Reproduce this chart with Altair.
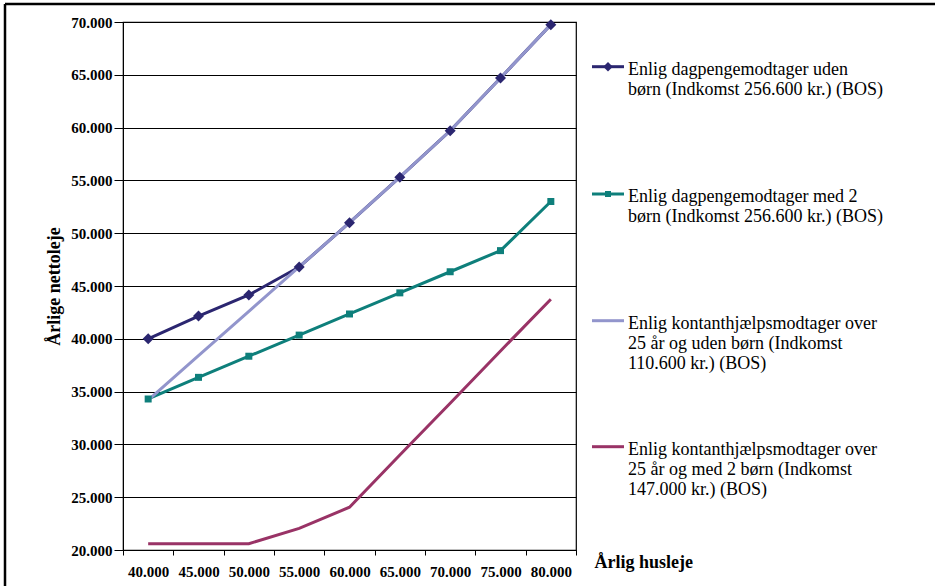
import altair as alt
import pandas as pd

# ---- data ----
rent = [40000, 45000, 50000, 55000, 60000, 65000, 70000, 75000, 80000]
series_names = [
    "Enlig dagpengemodtager uden børn (Indkomst 256.600 kr.) (BOS)",
    "Enlig dagpengemodtager med 2 børn (Indkomst 256.600 kr.) (BOS)",
    "Enlig kontanthjælpsmodtager over 25 år og uden børn (Indkomst 110.600 kr.) (BOS)",
    "Enlig kontanthjælpsmodtager over 25 år og med 2 børn (Indkomst 147.000 kr.) (BOS)",
]
legend_lines = [
    "Enlig dagpengemodtager uden\nbørn (Indkomst 256.600 kr.) (BOS)",
    "Enlig dagpengemodtager med 2\nbørn (Indkomst 256.600 kr.) (BOS)",
    "Enlig kontanthjælpsmodtager over\n25 år og uden børn (Indkomst\n110.600 kr.) (BOS)",
    "Enlig kontanthjælpsmodtager over\n25 år og med 2 børn (Indkomst\n147.000 kr.) (BOS)",
]
s1 = [40000, 42150, 44150, 46800, 51000, 55300, 59700, 64700, 69750]
s2 = [34300, 36350, 38350, 40350, 42350, 44350, 46350, 48350, 53000]
s3 = [34200, 38400, 42600, 46800, 51000, 55300, 59700, 64700, 69750]
s4 = [20600, 20600, 20600, 22050, 24050, 29000, 33900, 38850, 43750]
colors = ["#2B2670", "#0E7F7B", "#9295CC", "#993366"]
y_ticks = [20000, 25000, 30000, 35000, 40000, 45000, 50000, 55000, 60000, 65000, 70000]

rows = []
for name, vals in zip(series_names, [s1, s2, s3, s4]):
    for r, v in zip(rent, vals):
        rows.append({"series": name, "rent": r, "value": v})
df = pd.DataFrame(rows)

FONT = "Liberation Serif"
W, H = 453, 528
LEFT, TOP = 123, 22
TOTAL_H = 586

color_scale = alt.Scale(domain=series_names, range=colors)
fmt = "isValid(datum.value) ? replace(format(toNumber(datum.value), ','), ',', '.') : ''"

x_enc = alt.X(
    "rent:O",
    bandPosition=0.5,
    scale=alt.Scale(type="band", paddingInner=0, paddingOuter=0),
    axis=alt.Axis(
        tickBand="extent", tickSize=5, labelPadding=9, labelAngle=0,
        labelExpr=fmt, labelFont=FONT, labelFontSize=15, labelFontWeight="bold",
        labelColor="black", domainColor="black", tickColor="black", grid=False,
        title="Årlig husleje", titleFont=FONT, titleFontSize=18, titleFontWeight="bold",
        titleColor="black", titleX=471, titleY=17, titleAlign="left",
        titleBaseline="alphabetic", titleAnchor="start",
    ),
)
y_enc = alt.Y(
    "value:Q",
    scale=alt.Scale(domain=[20000, 70000], nice=False, zero=False),
    axis=alt.Axis(
        values=y_ticks, tickSize=9, labelPadding=2, labelExpr=fmt,
        labelFont=FONT, labelFontSize=15, labelFontWeight="bold", labelColor="black",
        domainColor="black", tickColor="black", grid=True, gridColor="black",
        gridOpacity=1, gridWidth=1,
        title="Årlige nettoleje", titleFont=FONT, titleFontSize=18,
        titleFontWeight="bold", titleColor="black", titleAngle=270,
        titleX=-69, titleY=H / 2, titleAlign="center", titleBaseline="middle",
    ),
)

layers = []
for name in series_names:
    layers.append(
        alt.Chart(df).transform_filter(alt.datum.series == name).mark_line(strokeWidth=3).encode(
            x=x_enc, y=y_enc,
            color=alt.Color("series:N", scale=color_scale, legend=None),
        )
    )
layers.append(
    alt.Chart(df).transform_filter(alt.datum.series == series_names[0]).mark_point(
        shape="diamond", filled=True, size=121, opacity=1
    ).encode(x=x_enc, y=y_enc, color=alt.Color("series:N", scale=color_scale, legend=None))
)
layers.append(
    alt.Chart(df).transform_filter(alt.datum.series == series_names[1]).mark_point(
        shape="square", filled=True, size=49, opacity=1
    ).encode(x=x_enc, y=y_enc, color=alt.Color("series:N", scale=color_scale, legend=None))
)

# ---- manual legend (right of plot) ----
leg_y = [44.7, 172, 298.7, 424.7]
leg = pd.DataFrame({"series": series_names, "label": legend_lines, "ly": leg_y})
leg["ty"] = leg["ly"] - 6
lx0, lx1, tx = 592 - LEFT, 624 - LEFT, 628 - LEFT
layers.append(
    alt.Chart(leg).mark_rule(strokeWidth=3).encode(
        x=alt.value(lx0), x2=alt.value(lx1), y=alt.Y("ly:Q", scale=None),
        color=alt.Color("series:N", scale=color_scale, legend=None),
    )
)
layers.append(
    alt.Chart(leg).transform_filter(alt.datum.series == series_names[0]).mark_point(
        shape="diamond", filled=True, size=90, opacity=1
    ).encode(
        x=alt.value((lx0 + lx1) / 2), y=alt.Y("ly:Q", scale=None),
        color=alt.Color("series:N", scale=color_scale, legend=None),
    )
)
layers.append(
    alt.Chart(leg).transform_filter(alt.datum.series == series_names[1]).mark_point(
        shape="square", filled=True, size=36, opacity=1
    ).encode(
        x=alt.value((lx0 + lx1) / 2), y=alt.Y("ly:Q", scale=None),
        color=alt.Color("series:N", scale=color_scale, legend=None),
    )
)
layers.append(
    alt.Chart(leg).mark_text(
        font=FONT, fontSize=18, align="left", baseline="top", lineBreak="\n",
        lineHeight=20, color="black",
    ).encode(x=alt.value(tx), y=alt.Y("ty:Q", scale=None), text="label:N")
)

# ---- outer frame (top and left edges visible in the crop) ----
frame = pd.DataFrame({"k": [0]})
layers.append(
    alt.Chart(frame).mark_rule(stroke="black", strokeWidth=2.5).encode(
        x=alt.value(5 - LEFT), x2=alt.value(935 - LEFT), y=alt.value(4 - TOP),
    )
)
layers.append(
    alt.Chart(frame).mark_rule(stroke="black", strokeWidth=2.5).encode(
        x=alt.value(5 - LEFT), y=alt.value(4 - TOP), y2=alt.value(TOTAL_H - TOP),
    )
)

chart = alt.layer(*layers).properties(
    width=W, height=H,
    autosize=alt.AutoSizeParams(type="none"),
    padding={"left": LEFT, "top": TOP, "right": 935 - LEFT - W, "bottom": TOTAL_H - TOP - H},
    background="white",
).configure_view(stroke="black", strokeWidth=1.2)

chart.save("out.html", embed_options={"renderer": "svg", "actions": False})
